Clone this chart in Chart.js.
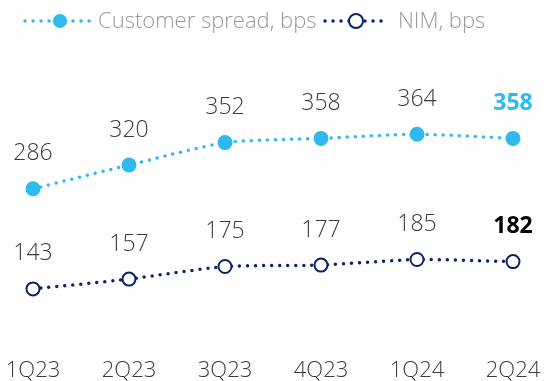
<!DOCTYPE html>
<html>
<head>
<meta charset="utf-8">
<script src="https://cdn.jsdelivr.net/npm/chart.js@4/dist/chart.umd.min.js"></script>
<style>
  html, body { margin: 0; padding: 0; background: #fff; }
  #wrap { width: 546px; height: 381px; }
</style>
</head>
<body>
<div id="wrap"><canvas id="spreadChart" width="546" height="381"></canvas></div>
<script>
// Quarterly data
const quarters = ['1Q23', '2Q23', '3Q23', '4Q23', '1Q24', '2Q24'];
const customerSpread = [286, 320, 352, 358, 364, 358];
const nim = [143, 157, 175, 177, 185, 182];

const LIGHT_BLUE = '#2ebaee';
const NAVY = '#0b2466';
const FONT = '"Open Sans", "Segoe UI", sans-serif';

// Value labels above each point; latest quarter highlighted in bold
const valueLabels = {
    id: 'valueLabels',
    afterDatasetsDraw(chart) {
        const ctx = chart.ctx;
        ctx.save();
        ctx.textAlign = 'center';
        ctx.textBaseline = 'middle';
        chart.data.datasets.forEach((ds, di) => {
            const meta = chart.getDatasetMeta(di);
            meta.data.forEach((pt, i) => {
                const last = i === ds.data.length - 1;
                ctx.font = (last ? '700 ' : '300 ') + '23px ' + FONT;
                ctx.fillStyle = last ? ds.lastLabelColor : '#3a3a3a';
                ctx.fillText(String(ds.data[i]), pt.x, pt.y - 35);
            });
        });
        ctx.restore();
    }
};

// Legend: dotted line with marker, then series name
const topLegend = {
    id: 'topLegend',
    afterDraw(chart) {
        const ctx = chart.ctx;
        const items = [
            { x: 25, w: 66, textX: 98, text: 'Customer spread, bps', ds: chart.data.datasets[0] },
            { x: 325, w: 58, textX: 398, text: 'NIM, bps', ds: chart.data.datasets[1] }
        ];
        const y = 21;
        ctx.save();
        items.forEach(it => {
            ctx.strokeStyle = it.ds.borderColor;
            ctx.lineWidth = 3.5;
            ctx.lineCap = 'round';
            ctx.setLineDash([0, 8]);
            ctx.beginPath();
            ctx.moveTo(it.x, y);
            ctx.lineTo(it.x + it.w, y);
            ctx.stroke();
            ctx.setLineDash([]);
            ctx.beginPath();
            ctx.arc(it.x + it.w / 2 + 2, y, 7, 0, Math.PI * 2);
            ctx.fillStyle = it.ds.pointBackgroundColor;
            ctx.fill();
            ctx.lineWidth = it.ds.pointBorderWidth;
            ctx.strokeStyle = it.ds.pointBorderColor;
            if (it.ds.pointBorderWidth) ctx.stroke();
            ctx.font = '300 22px ' + FONT;
            ctx.fillStyle = '#9a9a9a';
            ctx.textAlign = 'left';
            ctx.textBaseline = 'middle';
            ctx.fillText(it.text, it.textX, y + 1);
        });
        ctx.restore();
    }
};

new Chart(document.getElementById('spreadChart'), {
    type: 'line',
    data: {
        labels: quarters,
        datasets: [{
            label: 'Customer spread, bps',
            data: customerSpread,
            borderColor: LIGHT_BLUE,
            borderWidth: 3.5,
            borderCapStyle: 'round',
            borderDash: [0, 8],
            pointRadius: 7.5,
            pointBackgroundColor: LIGHT_BLUE,
            pointBorderColor: LIGHT_BLUE,
            pointBorderWidth: 0,
            lastLabelColor: LIGHT_BLUE,
            tension: 0.2
        }, {
            label: 'NIM, bps',
            data: nim,
            borderColor: NAVY,
            borderWidth: 3.5,
            borderCapStyle: 'round',
            borderDash: [0, 8],
            pointRadius: 6.5,
            pointBackgroundColor: '#ffffff',
            pointBorderColor: NAVY,
            pointBorderWidth: 2,
            lastLabelColor: '#000000',
            tension: 0.2
        }]
    },
    options: {
        responsive: false,
        animation: false,
        clip: false,
        layout: { padding: { top: 109, left: 33, right: 33, bottom: 0 } },
        plugins: {
            legend: { display: false },
            tooltip: { enabled: false }
        },
        scales: {
            x: {
                offset: false,
                grid: { display: false, drawTicks: false },
                border: { display: false },
                ticks: {
                    padding: 39,
                    color: '#3a3a3a',
                    font: { family: FONT, size: 22, weight: 300 },
                    maxRotation: 0
                },
                afterFit(scale) {
                    // labels may overhang the plot edges; keep the plot wide
                    scale.height = 62;
                    scale.paddingLeft = 0;
                    scale.paddingRight = 0;
                }
            },
            y: {
                display: false,
                min: 100,
                max: 400
            }
        }
    },
    plugins: [valueLabels, topLegend]
});
</script>
</body>
</html>
